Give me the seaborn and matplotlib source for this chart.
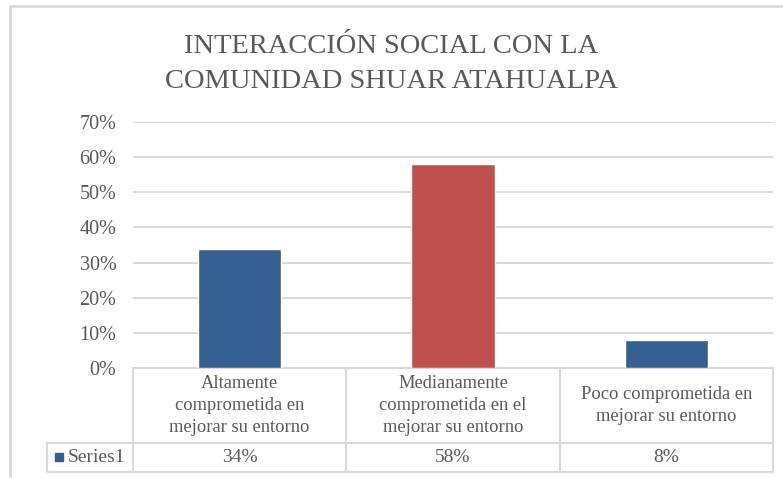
import matplotlib
matplotlib.use("Agg")
import matplotlib.pyplot as plt
import matplotlib.transforms as mtransforms
from matplotlib.lines import Line2D
from matplotlib.patches import Rectangle
from matplotlib.ticker import PercentFormatter, MultipleLocator
import seaborn as sns

# ===============================
# DATA
# ===============================
categories = [
    "Altamente\ncomprometida en\nmejorar su entorno",
    "Medianamente\ncomprometida en el\nmejorar su entorno",
    "Poco comprometida en\nmejorar su entorno",
]
values = [0.34, 0.58, 0.08]
value_labels = ["34%", "58%", "8%"]
series_name = "Series1"
title_lines = ["INTERACCIÓN SOCIAL CON LA", "COMUNIDAD SHUAR ATAHUALPA"]

bar_colors = ["#355F91", "#C0504D", "#355F91"]
text_color = "#595959"
line_color = "#D9D9D9"

# ===============================
# STYLE
# ===============================
sns.set_style("white")
plt.rcParams['font.family'] = ['Liberation Serif', 'DejaVu Serif']

W, H = 783, 478
fig = plt.figure(figsize=(W / 100, H / 100), dpi=100)

# plot area in pixel terms
x0, x1 = 133, 773
y_top, y_bot = 122, 368
ax = fig.add_axes([x0 / W, 1 - y_bot / H, (x1 - x0) / W, (y_bot - y_top) / H])

sns.barplot(x=categories, y=values, hue=categories, palette=bar_colors,
            legend=False, width=0.39, saturation=1, ax=ax, zorder=3)

ax.set_xlim(-0.5, 2.5)
ax.set_ylim(0, 0.7)
ax.yaxis.set_major_locator(MultipleLocator(0.1))
ax.yaxis.set_major_formatter(PercentFormatter(1.0, decimals=0))
ax.yaxis.grid(True, color=line_color, linewidth=1.4, zorder=0)
ax.set_axisbelow(True)
for s in ax.spines.values():
    s.set_visible(False)
ax.set_xticks([])
ax.set_xlabel("")
ax.set_ylabel("")
ax.tick_params(axis='y', length=0, pad=12, labelsize=14.5, labelcolor=text_color)

# ===============================
# DATA TABLE
# ===============================
ah = y_bot - y_top
row1 = -(443 - y_bot) / ah
row2 = -(472 - y_bot) / ah
left_cell = (47 - x0) / (x1 - x0)

blend = mtransforms.blended_transform_factory(ax.transData, ax.transAxes)
kw = dict(color=line_color, linewidth=1.5, clip_on=False)

ax.add_line(Line2D([-0.5, 2.5], [0, 0], transform=blend, **kw))
ax.add_line(Line2D([left_cell, 1], [row1, row1], transform=ax.transAxes, **kw))
ax.add_line(Line2D([left_cell, 1], [row2, row2], transform=ax.transAxes, **kw))
ax.add_line(Line2D([left_cell, left_cell], [row1, row2], transform=ax.transAxes, **kw))
for b in [-0.5, 0.5, 1.5, 2.5]:
    ax.add_line(Line2D([b, b], [0, row2], transform=blend, **kw))

for i, (cat, lab) in enumerate(zip(categories, value_labels)):
    ax.text(i, row1 / 2, cat, transform=blend, ha='center', va='center',
            fontsize=13.3, color=text_color, linespacing=1.4)
    ax.text(i, (row1 + row2) / 2, lab, transform=blend, ha='center', va='center',
            fontsize=14, color=text_color)

# legend key in table
fig.patches.append(Rectangle((55 / W, 1 - 461 / H), 8 / W, 8 / H,
                             transform=fig.transFigure, color=bar_colors[0]))
fig.text(68 / W, 1 - 457 / H, series_name, ha='left', va='center',
         fontsize=14, color=text_color)

# ===============================
# TITLE + CHART BORDER
# ===============================
fig.text(0.5, 1 - 53 / H, title_lines[0], ha='center', va='baseline',
         fontsize=20.5, color=text_color)
fig.text(0.5, 1 - 88 / H, title_lines[1], ha='center', va='baseline',
         fontsize=20.5, color=text_color)

fig.add_artist(Line2D([10 / W, 1], [1 - 6 / H, 1 - 6 / H], transform=fig.transFigure,
                      color=line_color, linewidth=2))
fig.add_artist(Line2D([10 / W, 10 / W], [0, 1 - 6 / H], transform=fig.transFigure,
                      color=line_color, linewidth=2))

fig.savefig("out.png", dpi=100)
plt.close(fig)
